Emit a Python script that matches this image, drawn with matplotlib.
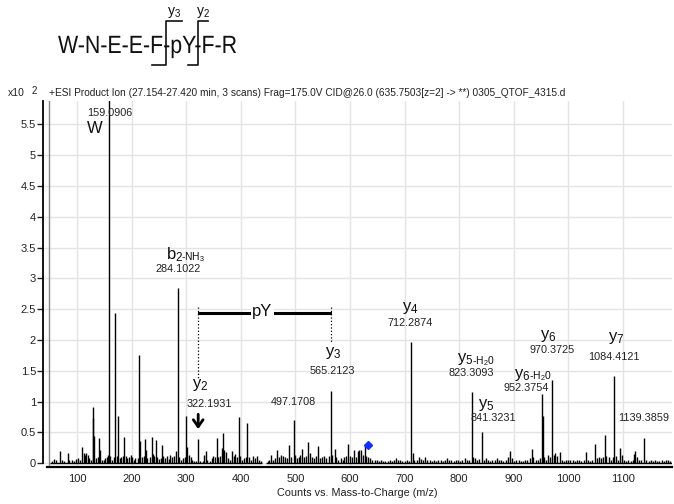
import matplotlib
matplotlib.use("Agg")
import matplotlib.pyplot as plt
from matplotlib.lines import Line2D
from matplotlib.textpath import TextPath
from matplotlib.patches import PathPatch
from matplotlib.font_manager import FontProperties
from matplotlib.transforms import Affine2D

plt.rcParams['font.family'] = ['Liberation Sans', 'DejaVu Sans']
plt.rcParams['mathtext.fontset'] = 'custom'
plt.rcParams['mathtext.rm'] = 'Liberation Sans'
plt.rcParams['mathtext.it'] = 'Liberation Sans:italic'
plt.rcParams['mathtext.bf'] = 'Liberation Sans:bold'

# --- spectrum data (m/z, counts x10^2) ---
peak_mz = [55, 58, 62, 69, 72, 76, 83, 86, 91, 95, 98, 101, 105, 109, 112, 115, 117, 120, 122, 126,
           129, 130, 132, 135, 138, 141, 143, 146, 149, 152, 155, 157, 159.09, 161, 164, 167, 170, 173,
           175, 178, 181, 184, 186, 189, 192, 195, 198, 201, 204, 207, 211, 214, 216, 219, 222, 224,
           226, 229, 233, 237, 239, 241, 244, 247, 250, 253, 256, 258, 262, 265, 268, 271, 274, 278,
           281, 284.1, 287, 290, 294, 297, 299, 302, 305, 308, 311, 315, 318, 322.19, 326, 330, 333,
           336, 339, 343, 347, 350, 353, 356, 359, 362, 365, 368, 370, 373, 376, 380, 384, 387, 390,
           393, 396, 399, 402, 406, 409, 412, 415, 418, 422, 426, 430, 434, 437, 449, 452, 456, 459,
           463, 467, 470, 474, 478, 481, 485, 489, 492, 497.17, 500, 503, 506, 509, 513, 516, 520,
           524, 527, 530, 534, 538, 542, 545, 549, 553, 557, 561, 565.21, 568, 572, 575, 579, 583,
           587, 590, 593, 597, 600, 604, 608, 611, 614, 617, 621, 624, 627, 630, 633, 637, 641, 645,
           649, 653, 657, 661, 665, 669, 673, 677, 681, 684, 688, 692, 696, 700, 704, 708, 712.29,
           715, 718, 722, 726, 730, 734, 738, 742, 746, 750, 754, 758, 762, 766, 770, 774, 778, 782,
           786, 790, 794, 798, 802, 806, 810, 814, 818, 823.31, 826, 829, 833, 837, 841.32, 845, 849,
           853, 857, 861, 865, 869, 873, 877, 881, 885, 889, 893, 897, 901, 905, 909, 913, 917, 921,
           925, 929, 933, 936, 940, 944, 948, 951.6, 953, 956, 960, 963, 966, 970.37, 973, 976, 980,
           984, 988, 992, 996, 1000, 1004, 1008, 1012, 1016, 1020, 1024, 1028, 1032, 1036, 1040, 1044,
           1049, 1052, 1056, 1060, 1064, 1067, 1070, 1074, 1078, 1081, 1084.41, 1087, 1091, 1095,
           1098, 1102, 1106, 1110, 1114, 1118, 1121, 1123, 1126, 1130, 1134, 1139.39, 1143, 1147,
           1151, 1155, 1159, 1163, 1167, 1171, 1175, 1179, 1183, 1187]
peak_h = [0.04, 0.07, 0.05, 0.20, 0.05, 0.04, 0.17, 0.06, 0.05, 0.04, 0.07, 0.09, 0.05, 0.26, 0.17, 0.14, 0.16, 0.13, 0.08, 0.06,
          0.74, 0.92, 0.45, 0.08, 0.10, 0.41, 0.22, 0.06, 0.05, 0.08, 0.10, 0.14, 6.20, 0.12, 0.06, 0.10, 2.44, 0.12,
          0.77, 0.08, 0.10, 0.12, 0.43, 0.12, 0.08, 0.10, 0.14, 0.10, 0.06, 0.08, 0.09, 1.76, 0.37, 0.10, 0.12, 0.39,
          0.22, 0.08, 0.10, 0.43, 0.15, 0.12, 0.38, 0.10, 0.07, 0.08, 0.30, 0.12, 0.08, 0.12, 0.07, 0.14, 0.10, 0.12,
          0.20, 2.85, 0.10, 0.06, 0.08, 0.10, 0.76, 0.27, 0.14, 0.10, 0.05, 0.04, 0.04, 0.39, 0.03, 0.04, 0.14,
          0.20, 0.06, 0.04, 0.08, 0.12, 0.10, 0.41, 0.10, 0.12, 0.25, 0.49, 0.22, 0.18, 0.08, 0.06, 0.20, 0.12, 0.15,
          0.10, 0.75, 0.12, 0.06, 0.08, 0.10, 0.66, 0.10, 0.06, 0.12, 0.08, 0.12, 0.05, 0.04, 0.03, 0.05, 0.13, 0.05,
          0.08, 0.22, 0.10, 0.14, 0.12, 0.10, 0.08, 0.30, 0.10, 0.70, 0.14, 0.08, 0.10, 0.14, 0.24, 0.10, 0.12,
          0.35, 0.16, 0.10, 0.08, 0.12, 0.28, 0.08, 0.10, 0.12, 0.08, 0.12, 1.17, 0.14, 0.23, 0.10, 0.06, 0.08,
          0.05, 0.10, 0.12, 0.31, 0.12, 0.10, 0.22, 0.10, 0.20, 0.22, 0.22, 0.14, 0.32, 0.12, 0.10, 0.08, 0.06, 0.06,
          0.05, 0.04, 0.05, 0.03, 0.04, 0.03, 0.05, 0.04, 0.06, 0.08, 0.06, 0.05, 0.04, 0.03, 0.05, 0.04, 1.97,
          0.16, 0.06, 0.05, 0.10, 0.07, 0.06, 0.10, 0.06, 0.05, 0.04, 0.06, 0.04, 0.05, 0.06, 0.03, 0.05, 0.08, 0.05,
          0.06, 0.04, 0.06, 0.05, 0.03, 0.06, 0.08, 0.05, 0.06, 1.16, 0.10, 0.08, 0.06, 0.07, 0.51, 0.06, 0.08,
          0.05, 0.04, 0.06, 0.05, 0.08, 0.05, 0.06, 0.04, 0.06, 0.10, 0.20, 0.08, 0.04, 0.06, 0.05, 0.04, 0.03, 0.06,
          0.05, 0.08, 0.23, 0.10, 0.06, 0.05, 0.08, 1.12, 0.76, 0.10, 0.06, 0.14, 0.10, 1.35, 0.14, 0.16, 0.12,
          0.18, 0.05, 0.04, 0.06, 0.05, 0.06, 0.05, 0.04, 0.06, 0.05, 0.04, 0.05, 0.18, 0.06, 0.04, 0.05,
          0.32, 0.08, 0.10, 0.08, 0.10, 0.46, 0.12, 0.10, 0.06, 0.10, 1.42, 0.12, 0.06, 0.25,
          0.14, 0.06, 0.04, 0.05, 0.04, 0.06, 0.15, 0.20, 0.10, 0.05, 0.06, 0.41, 0.06, 0.04,
          0.05, 0.03, 0.06, 0.04, 0.03, 0.05, 0.04, 0.06, 0.05, 0.04]
baseline_segments = [(50, 438), (447, 1190)]
edge_line_mz = 48.8
precursor_mz, precursor_h = 634, 0.29

# plain number labels: (text, m/z, height)
num_labels = [("159.0906", 160.4, 5.69), ("284.1022", 284.4, 3.15), ("322.1931", 342, 0.97),
              ("497.1708", 496, 1.00), ("565.2123", 567, 1.49), ("712.2874", 710, 2.27),
              ("823.3093", 823, 1.47), ("841.3231", 862, 0.73), ("952.3754", 922, 1.23),
              ("970.3725", 971, 1.84), ("1084.4121", 1084, 1.73), ("1139.3859", 1138.5, 0.73)]
# ion labels: (main text, m/z, height)
ion_labels = [("W", 133, 5.44), (r"$\mathregular{y_2}$", 325, 1.27), (r"$\mathregular{y_3}$", 569, 1.79),
              (r"$\mathregular{y_4}$", 710, 2.52), (r"$\mathregular{y_5}$", 849, 0.95),
              (r"$\mathregular{y_6}$", 964, 2.06), (r"$\mathregular{y_7}$", 1087, 2.03)]
# two-part labels: (big part, small part, split m/z, height)
split_labels = [(r"$\mathregular{b_2}$", r"$\mathregular{\text{-}NH_3}$", 294, 3.38),
                (r"$\mathregular{y_5}$", r"$\mathregular{\text{-}H_20}$", 827, 1.69),
                (r"$\mathregular{y_6}$", r"$\mathregular{\text{-}H_20}$", 931.5, 1.44)]

sequence = "W-N-E-E-F-pY-F-R"

W, H = 674, 504


def fx(px):
    return px / W


def fy(py):
    return 1 - py / H


fig = plt.figure(figsize=(W / 100, H / 100), dpi=100)
ax = fig.add_axes([fx(43), fy(467), (672 - 43) / W, (467 - 101) / H])

ax.set_xlim(37.7, 1190)
ax.set_ylim(-0.06, 5.88)
ax.set_xticks(range(100, 1200, 100))
ax.set_yticks([i * 0.5 for i in range(12)])
ax.set_yticklabels(["0", "0.5", "1", "1.5", "2", "2.5", "3", "3.5", "4", "4.5", "5", "5.5"])
ax.grid(True, color="#e4e4e4", lw=1.0, zorder=0)
ax.set_axisbelow(True)

for s in ["top", "right"]:
    ax.spines[s].set_visible(False)
ax.spines["left"].set_bounds(0, 5.88)
ax.spines["left"].set_linewidth(1.3)
ax.spines["bottom"].set_bounds(45, 1190)
ax.spines["bottom"].set_linewidth(1.6)
ax.tick_params(axis="y", length=4, width=1, labelsize=8, colors="#222", pad=1)
ax.tick_params(axis="x", length=0, labelsize=8, colors="#222", pad=5)

ax.vlines(peak_mz, 0, peak_h, color="black", lw=1.0, zorder=3)
for a, b in baseline_segments:
    ax.hlines(0.01, a, b, color="black", lw=1.0, zorder=3)
ax.axvline(edge_line_mz, color="#888888", lw=1.0, zorder=2)
ax.plot([precursor_mz], [precursor_h], marker="D", color="#1030ff", ms=4, zorder=4)

for t, x, y in num_labels:
    ax.text(x, y, t, ha="center", va="center", fontsize=7.8, color="#222", zorder=5)
for t, x, y in ion_labels:
    ax.text(x, y, t, ha="center", va="center", fontsize=12, color="#111", zorder=5)
for big, small, x, y in split_labels:
    ax.text(x, y, big, ha="right", va="center", fontsize=12, color="#111", zorder=5)
    ax.text(x - 3, y - 0.03, small, ha="left", va="center", fontsize=7.5, color="#111", zorder=5)

# pY gap annotation
ax.plot([323, 564], [2.445, 2.445], color="black", lw=2.2, zorder=4)
ax.text(439.4, 2.46, "pY", ha="center", va="center", fontsize=12, color="#111", zorder=5,
        bbox=dict(facecolor="white", edgecolor="none", pad=1.0))
ax.plot([322, 322], [2.54, 1.38], color="black", lw=0.9, ls=":", zorder=4)
ax.plot([565, 565], [2.54, 1.95], color="black", lw=0.9, ls=":", zorder=4)
ax.annotate("", xy=(322, 0.51), xytext=(322, 0.84),
            arrowprops=dict(arrowstyle="->,head_length=0.5,head_width=0.35", lw=2, color="black"))

ax.set_xlabel("Counts vs. Mass-to-Charge (m/z)", fontsize=7.8, color="#222", labelpad=3)

# header
fig.text(fx(8), fy(93), "x10", fontsize=7.5, va="center", color="#222")
fig.text(fx(32), fy(91), "2", fontsize=7, va="center", color="#222")
fig.text(fx(49), fy(93), "+ESI Product Ion (27.154-27.420 min, 3 scans) Frag=175.0V CID@26.0 "
         "(635.7503[z=2] -> **) 0305_QTOF_4315.d", fontsize=7.3, va="center", color="#222")

# peptide sequence (condensed glyphs) with fragment brackets
seq_path = TextPath((0, 0), sequence, size=25, prop=FontProperties(family="Liberation Sans"))
seq_w = seq_path.get_extents().width
px_to_fig = Affine2D().scale(1 / W, 1 / H) + fig.transFigure
seq_tr = Affine2D().scale(178 / seq_w, 1.0).translate(58, H - 53) + px_to_fig
fig.add_artist(PathPatch(seq_path, transform=seq_tr, facecolor="#111", edgecolor="none"))
for xv, xl, xr, lab in [(165.7, 151.7, 181.7, r"$\mathregular{y_3}$"),
                        (198.3, 188.3, 208.3, r"$\mathregular{y_2}$")]:
    fig.add_artist(Line2D([fx(xl), fx(xv), fx(xv), fx(xr)], [fy(65), fy(65), fy(21), fy(21)],
                          transform=fig.transFigure, color="#111", lw=1.2))
    fig.text(fx((xv + xr) / 2), fy(12), lab, fontsize=10, ha="center", va="center", color="#111")

fig.savefig("out.png", dpi=100)
